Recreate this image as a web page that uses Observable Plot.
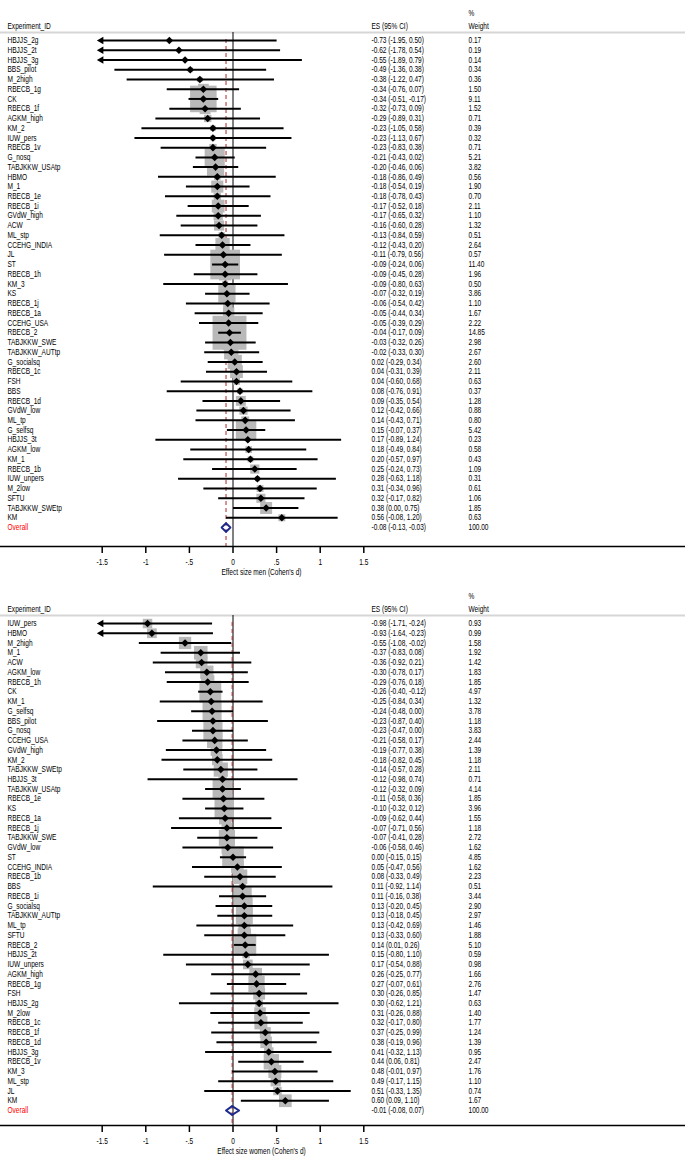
<!DOCTYPE html>
<html><head><meta charset="utf-8">
<script src="https://cdn.jsdelivr.net/npm/d3@7"></script>
<script src="https://cdn.jsdelivr.net/npm/@observablehq/plot@0.6"></script>
<style>
body{margin:0;background:#fff;}
#chart{width:685px;}
#chart svg{display:block;}
</style></head><body><div id="chart"></div>
<script>
// ---- Men panel ----
const menIds = ["HBJJS_2g","HBJJS_2t","HBJJS_3g","BBS_pilot","M_2high","RBECB_1g","CK","RBECB_1f","AGKM_high","KM_2","IUW_pers","RBECB_1v","G_nosq","TABJKKW_USAtp","HBMO","M_1","RBECB_1e","RBECB_1i","GVdW_high","ACW","ML_stp","CCEHG_INDIA","JL","ST","RBECB_1h","KM_3","KS","RBECB_1j","RBECB_1a","CCEHG_USA","RBECB_2","TABJKKW_SWE","TABJKKW_AUTtp","G_socialsq","RBECB_1c","FSH","BBS","RBECB_1d","GVdW_low","ML_tp","G_selfsq","HBJJS_3t","AGKM_low","KM_1","RBECB_1b","IUW_unpers","M_2low","SFTU","TABJKKW_SWEtp","KM"];
const menES = [-0.73,-0.62,-0.55,-0.49,-0.38,-0.34,-0.34,-0.32,-0.29,-0.23,-0.23,-0.23,-0.21,-0.20,-0.18,-0.18,-0.18,-0.17,-0.17,-0.16,-0.13,-0.12,-0.11,-0.09,-0.09,-0.09,-0.07,-0.06,-0.05,-0.05,-0.04,-0.03,-0.02,0.02,0.04,0.04,0.08,0.09,0.12,0.14,0.15,0.17,0.18,0.20,0.25,0.28,0.31,0.32,0.38,0.56];
const menLo = [-1.95,-1.78,-1.89,-1.36,-1.22,-0.76,-0.51,-0.73,-0.89,-1.05,-1.13,-0.83,-0.43,-0.46,-0.86,-0.54,-0.78,-0.52,-0.65,-0.60,-0.84,-0.43,-0.79,-0.24,-0.45,-0.80,-0.32,-0.54,-0.44,-0.39,-0.17,-0.32,-0.33,-0.29,-0.31,-0.60,-0.76,-0.35,-0.42,-0.43,-0.07,-0.89,-0.49,-0.57,-0.24,-0.63,-0.34,-0.17,0.00,-0.08];
const menHi = [0.50,0.54,0.79,0.38,0.47,0.07,-0.17,0.09,0.31,0.58,0.67,0.38,0.02,0.06,0.49,0.19,0.43,0.18,0.32,0.28,0.59,0.20,0.56,0.06,0.28,0.63,0.19,0.42,0.34,0.29,0.09,0.26,0.30,0.34,0.39,0.68,0.91,0.54,0.66,0.71,0.37,1.24,0.84,0.97,0.73,1.18,0.96,0.82,0.75,1.20];
const menW = [0.17,0.19,0.14,0.34,0.36,1.50,9.11,1.52,0.71,0.39,0.32,0.71,5.21,3.82,0.56,1.90,0.70,2.11,1.10,1.32,0.51,2.64,0.57,11.40,1.96,0.50,3.86,1.10,1.67,2.22,14.85,2.98,2.67,2.60,2.11,0.63,0.37,1.28,0.88,0.80,5.42,0.23,0.58,0.43,1.09,0.31,0.61,1.06,1.85,0.63];
const menOverall = [-0.08,-0.13,-0.03];
const menTitle = "Effect size men (Cohen's d)";

// ---- Women panel ----
const womenIds = ["IUW_pers","HBMO","M_2high","M_1","ACW","AGKM_low","RBECB_1h","CK","KM_1","G_selfsq","BBS_pilot","G_nosq","CCEHG_USA","GVdW_high","KM_2","TABJKKW_SWEtp","HBJJS_3t","TABJKKW_USAtp","RBECB_1e","KS","RBECB_1a","RBECB_1j","TABJKKW_SWE","GVdW_low","ST","CCEHG_INDIA","RBECB_1b","BBS","RBECB_1i","G_socialsq","TABJKKW_AUTtp","ML_tp","SFTU","RBECB_2","HBJJS_2t","IUW_unpers","AGKM_high","RBECB_1g","FSH","HBJJS_2g","M_2low","RBECB_1c","RBECB_1f","RBECB_1d","HBJJS_3g","RBECB_1v","KM_3","ML_stp","JL","KM"];
const womenES = [-0.98,-0.93,-0.55,-0.37,-0.36,-0.30,-0.29,-0.26,-0.25,-0.24,-0.23,-0.23,-0.21,-0.19,-0.18,-0.14,-0.12,-0.12,-0.11,-0.10,-0.09,-0.07,-0.07,-0.06,0.00,0.05,0.08,0.11,0.11,0.13,0.13,0.13,0.13,0.14,0.15,0.17,0.26,0.27,0.30,0.30,0.31,0.32,0.37,0.38,0.41,0.44,0.48,0.49,0.51,0.60];
const womenLo = [-1.71,-1.64,-1.08,-0.83,-0.92,-0.78,-0.76,-0.40,-0.84,-0.48,-0.87,-0.47,-0.58,-0.77,-0.82,-0.57,-0.98,-0.32,-0.58,-0.32,-0.62,-0.71,-0.41,-0.58,-0.15,-0.47,-0.33,-0.92,-0.16,-0.20,-0.18,-0.42,-0.33,0.01,-0.80,-0.54,-0.25,-0.07,-0.26,-0.62,-0.26,-0.17,-0.25,-0.19,-0.32,0.06,-0.01,-0.17,-0.33,0.09];
const womenHi = [-0.24,-0.23,-0.02,0.08,0.21,0.17,0.18,-0.12,0.34,0.00,0.40,0.00,0.17,0.38,0.45,0.28,0.74,0.09,0.36,0.12,0.44,0.56,0.28,0.46,0.15,0.56,0.49,1.14,0.38,0.45,0.45,0.69,0.60,0.26,1.10,0.88,0.77,0.61,0.85,1.21,0.88,0.80,0.99,0.96,1.13,0.81,0.97,1.15,1.35,1.10];
const womenW = [0.93,0.99,1.58,1.92,1.42,1.83,1.85,4.97,1.32,3.78,1.18,3.83,2.44,1.39,1.18,2.11,0.71,4.14,1.85,3.96,1.55,1.18,2.72,1.62,4.85,1.62,2.23,0.51,3.44,2.90,2.97,1.46,1.88,5.10,0.59,0.98,1.66,2.76,1.47,0.63,1.40,1.77,1.24,1.39,0.95,2.47,1.76,1.10,0.74,1.67];
const womenOverall = [-0.01,-0.08,0.07];
const womenTitle = "Effect size women (Cohen's d)";

const xTicks = [-1.5,-1,-0.5,0,0.5,1,1.5];
const FONT = "'Liberation Sans',Arial,sans-serif";
const NARROW = 0.8; // horizontal squeeze to mimic Arial Narrow

function panel(ids, es, lo, hi, w, ov, title, boxK, height) {
  const n = ids.length;
  const rows = ids.map((id, i) => ({id, i, es: es[i], lo: lo[i], hi: hi[i], w: w[i]}));
  const xmin = xTicks[0], xmax = xTicks[xTicks.length - 1];
  const clip = rows.map(d => ({...d, l: Math.max(d.lo, xmin), h: Math.min(d.hi, xmax)}));
  const ovRow = {id: "Overall", i: n, es: ov[0], lo: ov[1], hi: ov[2], w: 100};
  const fmt = v => v.toFixed(2);
  const all = [...rows, ovRow];
  const dia = [[ov[1], n], [ov[0], n - 0.45], [ov[2], n], [ov[0], n + 0.45], [ov[1], n]];
  const tf = v => v === 0 ? "0" : String(v).replace("0.", ".");
  const svg = Plot.plot({
    width: 685, height,
    marginLeft: 0, marginRight: 0, marginTop: 32, marginBottom: 583 - 546,
    x: {domain: [-1.5, 1.5], range: [101.7, 363.3]},
    y: {domain: [0, n], range: [40, 527], axis: null},
    r: {type: "sqrt", domain: [0, 100], range: [0, boxK * 10 / Math.sqrt(Math.PI)]},
    style: {fontFamily: FONT, fontSize: "8.2px", color: "#000", background: "#fff"},
    marks: [
      Plot.frame({anchor: "top", stroke: "#d6d6d6", strokeWidth: 2}),
      Plot.ruleX([0], {stroke: "#000", strokeWidth: 1}),
      Plot.ruleX([ov[0]], {stroke: "#b02828", strokeWidth: 1, strokeDasharray: "4,3", insetTop: 7}),
      Plot.dot(rows, {x: "es", y: "i", r: "w", symbol: "square", fill: "#b9b9b9", stroke: null}),
      Plot.link(clip, {x1: "l", x2: "h", y1: "i", y2: "i", stroke: "#000", strokeWidth: 2}),
      Plot.dot(clip.filter(d => d.lo < xmin), {x: "l", y: "i", symbol: "triangle2", r: 3.6, rotate: -90, fill: "#000", stroke: null, dx: -1}),
      Plot.dot(clip.filter(d => d.hi > xmax), {x: "h", y: "i", symbol: "triangle2", r: 3.6, rotate: 90, fill: "#000", stroke: null, dx: 1}),
      Plot.dot(rows, {x: "es", y: "i", symbol: "diamond2", r: 3.4, fill: "#000", stroke: null}),
      Plot.line(dia, {x: d => d[0], y: d => d[1], stroke: "#1c2a8c", strokeWidth: 2, fill: "none"}),
      Plot.frame({anchor: "bottom", stroke: "#000", strokeWidth: 1.5}),
      Plot.axisX({anchor: "bottom", ticks: xTicks, tickFormat: tf, tickSize: 7, tickPadding: 6, strokeWidth: 1.5, label: null}),
      Plot.text([title], {frameAnchor: "bottom-left", dx: 261, dy: 28, textAnchor: "middle", fill: "#000"}),
      // headers
      Plot.text(["Experiment_ID"], {frameAnchor: "top-left", dx: 7, dy: -9, textAnchor: "start", fill: "#000"}),
      Plot.text(["ES (95% CI)"], {frameAnchor: "top-left", dx: 371, dy: -9, textAnchor: "start", fill: "#000"}),
      Plot.text(["%"], {frameAnchor: "top-left", dx: 468, dy: -22, textAnchor: "start", fill: "#000"}),
      Plot.text(["Weight"], {frameAnchor: "top-left", dx: 468, dy: -9, textAnchor: "start", fill: "#000"}),
      // row text
      Plot.text(rows, {y: "i", text: "id", frameAnchor: "left", dx: 7, textAnchor: "start", fill: "#000"}),
      Plot.text([ovRow], {y: "i", text: "id", frameAnchor: "left", dx: 7, textAnchor: "start", fill: "#ff0000"}),
      Plot.text(all, {y: "i", text: d => `${fmt(d.es)} (${fmt(d.lo)}, ${fmt(d.hi)})`, frameAnchor: "left", dx: 371, textAnchor: "start", fill: "#000"}),
      Plot.text(all, {y: "i", text: d => fmt(d.w), frameAnchor: "left", dx: 468, textAnchor: "start", fill: "#000"})
    ]
  });
  // condense text horizontally around its anchor point
  svg.querySelectorAll("text").forEach(t => {
    const tr = t.getAttribute("transform");
    if (tr) t.setAttribute("transform", tr + ` scale(${NARROW},1)`);
  });
  return svg;
}

const chart = document.getElementById("chart");
chart.append(panel(menIds, menES, menLo, menHi, menW, menOverall, menTitle, 8.8, 583));
chart.append(panel(womenIds, womenES, womenLo, womenHi, womenW, womenOverall, womenTitle, 9.8, 579));
</script>
</body></html>
